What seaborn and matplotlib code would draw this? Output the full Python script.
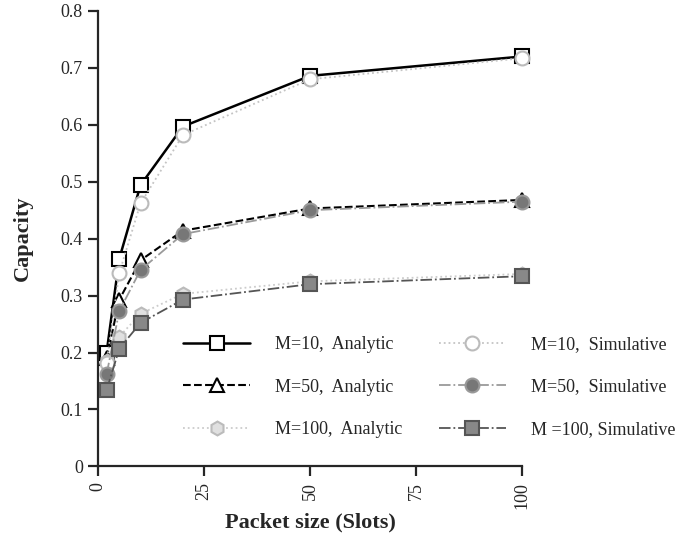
import matplotlib
matplotlib.use("Agg")
import matplotlib.pyplot as plt
import seaborn as sns

# Data
packet_size = [2, 5, 10, 20, 50, 100]

m10_analytic = [0.200, 0.365, 0.494, 0.597, 0.686, 0.720]
m50_analytic = [0.190, 0.293, 0.362, 0.414, 0.453, 0.468]
m100_analytic = [0.185, 0.228, 0.268, 0.303, 0.325, 0.338]

m10_simulative = [0.182, 0.340, 0.462, 0.582, 0.680, 0.717]
m50_simulative = [0.162, 0.273, 0.345, 0.408, 0.450, 0.465]
m100_simulative = [0.134, 0.207, 0.252, 0.293, 0.320, 0.334]

labels = [
    "M=10,  Analytic", "M=10,  Simulative",
    "M=50,  Analytic", "M=50,  Simulative",
    "M=100,  Analytic", "M =100, Simulative",
]

sns.set_style("ticks")
plt.rcParams['font.family'] = ['Liberation Serif', 'DejaVu Serif']

fig = plt.figure(figsize=(6.96, 5.48), dpi=100)
ax = fig.add_axes([0.141, 0.149, 0.609, 0.831])

# (values, label, color, linestyle, marker, marker face, marker edge, linewidth)
series = [
    (m10_analytic, labels[0], 'black', '-', 's', 'white', 'black', 1.8),
    (m50_analytic, labels[2], 'black', '--', '^', 'white', 'black', 1.5),
    (m100_analytic, labels[4], '#cccccc', ':', 'h', '#e0e0e0', '#bbbbbb', 1.3),
    (m10_simulative, labels[1], '#c4c4c4', ':', 'o', 'white', '#bbbbbb', 1.3),
    (m50_simulative, labels[3], '#9a9a9a', '-.', 'o', '#777777', '#999999', 1.3),
    (m100_simulative, labels[5], '#555555', '-.', 's', '#888888', '#555555', 1.3),
]

for vals, lab, col, ls, mk, mfc, mec, lw in series:
    sns.lineplot(
        x=packet_size,
        y=vals,
        ax=ax,
        color=col,
        linestyle=ls,
        linewidth=lw,
        marker=mk,
        markersize=10,
        markerfacecolor=mfc,
        markeredgecolor=mec,
        markeredgewidth=1.5,
        label=lab,
        clip_on=False,
        zorder=3,
    )

ax.set_xlim(0, 100)
ax.set_ylim(0, 0.8)
ax.set_xticks([0, 25, 50, 75, 100])
ax.set_xticklabels(['0', '25', '50', '75', '100'], rotation=90, fontsize=13)
ax.set_yticks([0, 0.1, 0.2, 0.3, 0.4, 0.5, 0.6, 0.7, 0.8])
ax.set_yticklabels(['0', '0.1', '0.2', '0.3', '0.4', '0.5', '0.6', '0.7', '0.8'],
                   fontsize=13)
ax.tick_params(axis='both', direction='out', length=7, width=1.6, pad=4)

for side in ['left', 'bottom']:
    ax.spines[side].set_linewidth(1.6)
sns.despine(ax=ax)

ax.set_ylabel("Capacity", fontsize=16, fontweight='bold', labelpad=20)
ax.set_xlabel("Packet size (Slots)", fontsize=16, fontweight='bold', labelpad=3)

# legend: analytic in first column, simulative in second
handles, labs = ax.get_legend_handles_labels()
ax.get_legend().remove()
fig.legend(
    handles, labs,
    ncol=2,
    loc='upper left',
    bbox_to_anchor=(0.240, 0.416),
    frameon=False,
    fontsize=13,
    handlelength=3.7,
    handletextpad=1.4,
    columnspacing=2.0,
    labelspacing=1.4,
)

fig.savefig("out.png", dpi=100)
